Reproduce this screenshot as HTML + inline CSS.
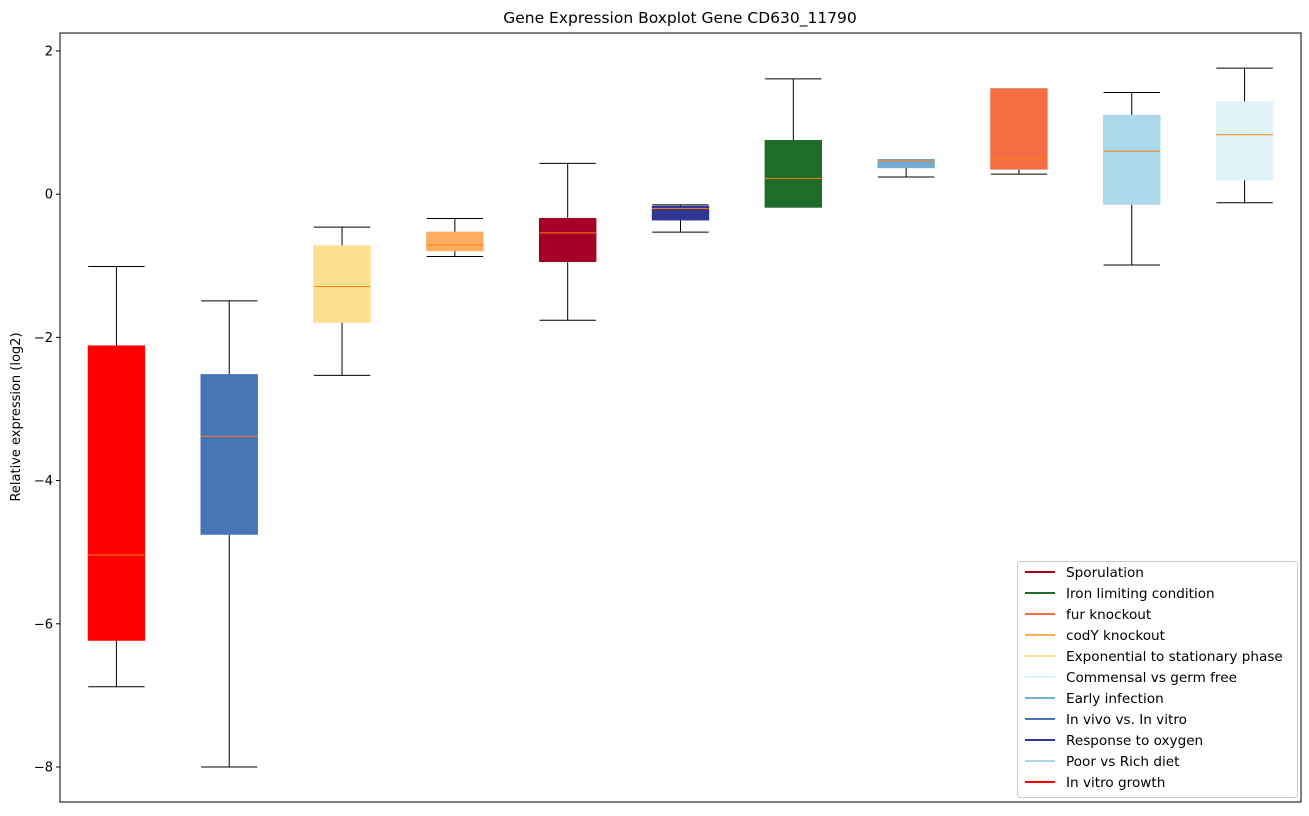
<!DOCTYPE html>
<html><head><meta charset="utf-8"><style>
body{margin:0;background:#fff;font-family:"DejaVu Sans","Liberation Sans",sans-serif}
svg text{font-family:"DejaVu Sans","Liberation Sans",sans-serif}
</style></head><body>
<svg id="chart" width="1309" height="812" xmlns="http://www.w3.org/2000/svg">
<text x="680" y="23" text-anchor="middle" font-size="15.5">Gene Expression Boxplot Gene CD630_11790</text>
<text transform="translate(20,417) rotate(-90)" text-anchor="middle" font-size="13">Relative expression (log2)</text>
<g id="plot"></g>
<rect x="60" y="33" width="1241" height="769" fill="none" stroke="#000" stroke-width="1"/>
</svg>
<script>
const categories=["In vitro growth","In vivo vs. In vitro","Exponential to stationary phase","codY knockout","Sporulation","Response to oxygen","Iron limiting condition","Early infection","fur knockout","Poor vs Rich diet","Commensal vs germ free"];
const colors=["#ff0000","#4575b4","#fee090","#fdae61","#a50026","#313695","#1f6b2a","#74add1","#f46d43","#abd9e9","#e0f3f8"];
const whiskerLow=[-6.88,-8.0,-2.53,-0.87,-1.76,-0.53,-0.18,0.24,0.28,-0.99,-0.12];
const q1=[-6.23,-4.75,-1.79,-0.79,-0.94,-0.36,-0.18,0.37,0.35,-0.14,0.2];
const medians=[-5.04,-3.38,-1.29,-0.71,-0.54,-0.2,0.22,0.46,0.5,0.6,0.83];
const q3=[-2.12,-2.52,-0.72,-0.53,-0.34,-0.17,0.75,0.48,1.47,1.1,1.29];
const whiskerHigh=[-1.01,-1.49,-0.46,-0.34,0.43,-0.15,1.61,0.48,1.47,1.42,1.76];
const yTicks=[2,0,-2,-4,-6,-8];
const legendOrder=["Sporulation","Iron limiting condition","fur knockout","codY knockout","Exponential to stationary phase","Commensal vs germ free","Early infection","In vivo vs. In vitro","Response to oxygen","Poor vs Rich diet","In vitro growth"];
const NS="http://www.w3.org/2000/svg";
const svg=document.getElementById('chart'),g=document.getElementById('plot');
const X0=60,X1=1301,Y0=33,Y1=802,ymin=-8.489,ymax=2.251;
const x=i=>X0+(i+0.5)*(X1-X0)/categories.length;
const y=v=>Y1-(v-ymin)/(ymax-ymin)*(Y1-Y0);
function el(t,a,p){const e=document.createElementNS(NS,t);for(const k in a)e.setAttribute(k,a[k]);(p||g).appendChild(e);return e;}
yTicks.forEach(t=>{
 const l=el('line',{x1:X0-4,x2:X0,y1:y(t),y2:y(t),stroke:'#000'});
 
 
 const tx=el('text',{x:X0-7,y:y(t)+4.5,'text-anchor':'end','font-size':13});
 tx.textContent=t<0?'\u2212'+(-t):String(t);
 
 
});
const bw=(X1-X0)/categories.length*0.5;
categories.forEach((c,i)=>{
 const cx=x(i);
 const grp=el('g',{});
 
 
 el('line',{x1:cx,x2:cx,y1:y(whiskerLow[i]),y2:y(q1[i]),stroke:'#000'},grp);
 el('line',{x1:cx,x2:cx,y1:y(q3[i]),y2:y(whiskerHigh[i]),stroke:'#000'},grp);
 el('line',{x1:cx-bw/2,x2:cx+bw/2,y1:y(whiskerLow[i]),y2:y(whiskerLow[i]),stroke:'#000'},grp);
 el('line',{x1:cx-bw/2,x2:cx+bw/2,y1:y(whiskerHigh[i]),y2:y(whiskerHigh[i]),stroke:'#000'},grp);
 el('rect',{x:cx-bw/2,y:y(q3[i]),width:bw,height:Math.max(1,y(q1[i])-y(q3[i])),fill:colors[i],stroke:colors[i]},grp);
 el('line',{x1:cx-bw/2,x2:cx+bw/2,y1:y(medians[i]),y2:y(medians[i]),stroke:'#ff7f0e'},grp);
});
const lg=el('g',{},svg);


el('rect',{x:1017.5,y:561.5,width:280,height:236,fill:'#fff',stroke:'#ccc',rx:3},lg);
legendOrder.forEach((n,k)=>{
 const ci=categories.indexOf(n),yy=572+k*21;
 const e=el('g',{},lg);
 
 
 el('line',{x1:1025,x2:1055,y1:yy,y2:yy,stroke:colors[ci],'stroke-width':2},e);
 const t=el('text',{x:1066,y:yy+5,'font-size':13.6},e);t.textContent=n;
});
</script>
</body></html>
